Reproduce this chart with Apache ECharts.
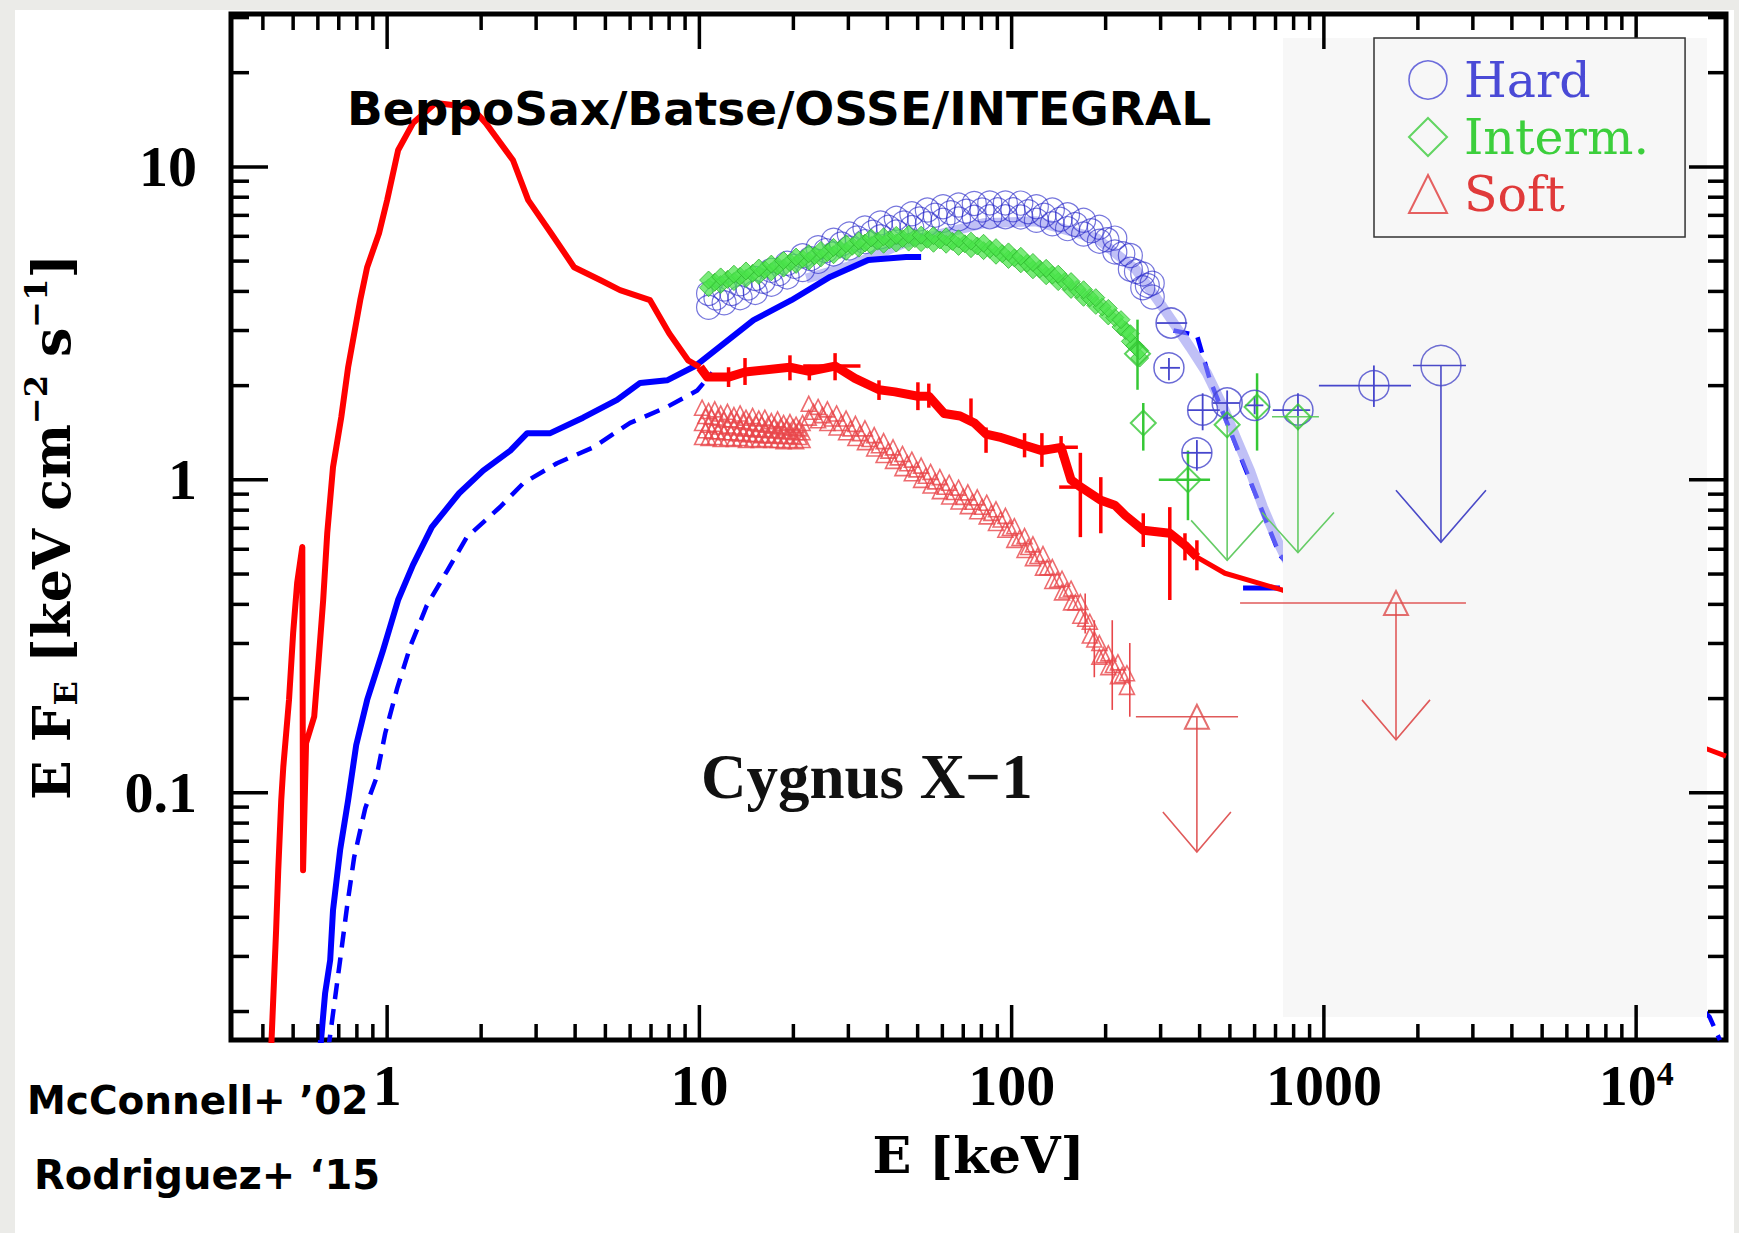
<!DOCTYPE html>
<html lang="en">
<head>
<meta charset="utf-8">
<title>Cygnus X-1 broad-band spectra</title>
<script src="https://cdn.jsdelivr.net/npm/echarts@6/dist/echarts.min.js"></script>
<style>
  html, body { margin: 0; padding: 0; background: #ebebe8; }
  #page { position: relative; width: 1739px; height: 1233px; overflow: hidden; }
  #card { position: absolute; left: 15px; top: 10px; width: 1719px; height: 1223px; background: #ffffff; }
  #chart { position: absolute; left: 0; top: 0; width: 1739px; height: 1233px; }
</style>
</head>
<body>
<div id="page"><div id="card"></div><div id="chart"></div></div>
<script>
// Axis extents: photon energy (keV) and E F_E (keV cm^-2 s^-1)
const xRange = [0.3162, 19400];
const yRange = [0.01622, 30.8];

// Decade labels
const xTickValues = [1, 10, 100, 1000, 10000];
const xTickLabels = ['1', '10', '100', '1000', '10{sup|4}'];
const yTickValues = [0.1, 1, 10];
const yTickLabels = ['0.1', '1', '10'];

// ---------------- Soft state ----------------
// low-energy soft-state spectrum [E, EF_E]
const softSpectrum = [
  [0.425,0.015],[0.441,0.0364],[0.448,0.0566],[0.458,0.0947],[0.465,0.121],[0.485,0.198],
  [0.500,0.324],[0.515,0.468],[0.535,0.610],[0.538,0.0566],[0.550,0.144],[0.584,0.175],
  [0.601,0.252],[0.624,0.413],[0.643,0.676],[0.671,1.10],[0.713,1.585],[0.750,2.29],
  [0.820,3.75],[0.863,4.78],[0.942,6.14],[1.00,7.83],[1.084,11.3],[1.21,13.8],[1.43,16.0],
  [1.86,15.5],[2.07,13.8],[2.53,10.5],[2.83,7.83],[3.35,6.14],[3.97,4.78],[4.81,4.35],
  [5.57,4.04],[6.95,3.75],[8.0,2.94],[9.2,2.41],[10.05,2.29]
];
// soft-state hard X-ray data trace
const softDataLine = [
  [10.05,2.29],[10.6,2.13],[12.4,2.13],[14.0,2.21],[19.5,2.29],[22.5,2.22],[27.2,2.31],
  [31.5,2.11],[37.6,1.94],[42.3,1.91],[50.1,1.85],[54.3,1.85],[60.8,1.63],[68.4,1.60],
  [76.0,1.52],[82.8,1.40],[91.4,1.37],[110,1.29],[125,1.24],[144,1.27],[155,1.0],
  [166,0.95],[193,0.861],[214,0.83],[231,0.77],[264,0.69],[321,0.675],[359,0.618],[392,0.566]
];
// error crosses on that trace [E, F, Elo, Ehi, Flo, Fhi]
const softDataErr = [
  [12.4,2.13,12.4,12.4,1.98,2.29],[14.0,2.21,14.0,14.0,2.01,2.45],[19.5,2.29,19.5,19.5,2.08,2.50],
  [22.5,2.22,22.5,22.5,2.08,2.33],[27.2,2.31,21.5,32.8,2.08,2.54],[37.6,1.94,37.6,37.6,1.80,2.08],
  [50.1,1.85,50.1,50.1,1.67,2.05],[54.3,1.85,54.3,54.3,1.70,2.03],[74.1,1.60,74.1,74.1,1.52,1.82],
  [82.8,1.40,82.8,82.8,1.22,1.47],[110,1.29,110,110,1.18,1.41],[125,1.24,125,125,1.10,1.41],
  [144,1.27,123,163,1.18,1.38],[166,0.95,166,166,0.656,1.22],[155,0.948,142,168,0.948,0.948],
  [193,0.861,193,193,0.675,1.02],[264,0.69,264,264,0.61,0.782],[321,0.675,321,321,0.413,0.818],
  [359,0.618,359,359,0.553,0.675],[392,0.566,392,392,0.514,0.641]
];
// soft-state model continuation
const softModelTail = [[392,0.566],[482,0.503],[734,0.445],[17200,0.137],[19400,0.131]];
// soft-state triangles, 10-21 keV block (five staggered rows)
const softClusterE    = [10.2,10.7,11.2,11.7,12.3,12.9,13.5,14.1,14.8,15.5,16.2,17.0,17.8,18.6,19.5,20.4,21.4];
const softClusterTop  = [1.70,1.66,1.68,1.63,1.65,1.61,1.63,1.58,1.60,1.57,1.58,1.54,1.56,1.52,1.53,1.50,1.52];
const softClusterMid  = [1.52,1.50,1.51,1.48,1.49,1.47,1.48,1.46,1.46,1.45,1.45,1.44,1.44,1.43,1.43,1.42,1.42];
const softClusterBot  = [1.37,1.36,1.37,1.35,1.36,1.35,1.36,1.34,1.35,1.34,1.35,1.34,1.34,1.33,1.34,1.33,1.34];
const softClusterE2   = [10.45,10.95,11.45,12.0,12.6,13.2,13.8,14.45,15.15,15.85,16.6,17.4,18.2,19.05,19.95,20.9];
const softClusterUpper= [1.60,1.59,1.58,1.56,1.56,1.55,1.54,1.53,1.52,1.51,1.50,1.49,1.48,1.47,1.47,1.46];
const softClusterLower= [1.44,1.43,1.43,1.42,1.42,1.41,1.41,1.40,1.40,1.39,1.39,1.39,1.38,1.38,1.38,1.37];
// soft-state triangles above 22 keV
const softTailE = [22.4,24.0,25.7,27.5,29.5,31.6,33.9,36.3,38.9,41.7,44.7,47.9,51.3,55.0,58.9,63.1,67.6,72.4,
  77.6,83.2,89.1,95.5,102,110,117,126,135,145,155,166,178,191,204,219,234];
const softTailHigh = [1.75,1.71,1.68,1.63,1.57,1.51,1.46,1.39,1.33,1.27,1.21,1.16,1.11,1.06,1.02,0.979,0.944,
  0.912,0.879,0.845,0.805,0.767,0.711,0.661,0.622,0.579,0.526,0.483,0.449,0.407,0.352,0.301,0.279,0.261,0.241];
const softTailLow = [1.58,1.55,1.52,1.47,1.42,1.36,1.32,1.26,1.20,1.15,1.09,1.05,1.00,0.959,0.920,0.885,0.853,
  0.824,0.794,0.764,0.728,0.693,0.643,0.597,0.562,0.524,0.475,0.437,0.406,0.368,0.318,0.272,0.252,0.236,0.218];
const softTailMidE = [23.2,24.8,26.6,28.5,30.5,32.7,35.1,37.6,40.3,43.2,46.3,49.6,53.1,56.9,61.0,65.3,70.0,75.0,
  80.4,86.1,92.2,98.7,106,113,121,130,140,150,160,172,184,197,211,226];
const softTailMid = [1.65,1.61,1.57,1.52,1.46,1.41,1.35,1.29,1.24,1.18,1.13,1.08,1.03,0.989,0.950,0.914,0.882,
  0.851,0.820,0.784,0.747,0.702,0.652,0.610,0.571,0.525,0.479,0.443,0.406,0.360,0.309,0.275,0.256,0.238];
const softTailErr = [
  [172,0.38,172,172,0.323,0.433],[184,0.30,184,184,0.234,0.356],
  [210,0.26,210,210,0.184,0.356],[239,0.224,239,239,0.175,0.301]
];
// upper limits [E, F, Elo, Ehi, F at arrow tip]
const softLimits = [[392,0.175,250,531,0.0647],[1702,0.404,539,2851,0.1476]];

// ---------------- Hard state ----------------
const hardSpectrum = [
  [0.61,0.015],[0.633,0.0229],[0.657,0.0292],[0.671,0.0422],[0.707,0.0656],[0.750,0.0947],
  [0.796,0.142],[0.863,0.198],[0.971,0.286],[1.084,0.413],[1.21,0.535],[1.39,0.706],[1.70,0.906],
  [2.03,1.07],[2.48,1.24],[2.81,1.41],[3.33,1.41],[4.24,1.58],[5.45,1.80],[6.46,2.04],[7.88,2.08],
  [9.76,2.32],[14.9,3.24],[19.7,3.75],[26.2,4.45],[34.7,5.04],[45.9,5.15],[51.3,5.15]
];
const hardModelLow = [
  [0.647,0.015],[0.707,0.0292],[0.745,0.0437],[0.784,0.0622],[0.851,0.0893],[0.922,0.111],
  [0.986,0.155],[1.077,0.216],[1.19,0.296],[1.34,0.397],[1.56,0.514],[1.80,0.656],[2.30,0.819],
  [2.73,0.976],[3.50,1.13],[4.57,1.27],[6.00,1.52],[7.88,1.71],[9.84,1.93],[11.0,2.2]
];
const hardModelHigh = [[330,3.0],[392,2.90],[432,2.08],[723,0.574],[17200,0.0192],[18550,0.0162]];
const hardModelPale = [
  [22,4.4],[30,4.8],[45,5.7],[81,6.6],[120,6.7],[188,5.9],[250,4.7],[305,3.56],[373,2.65],
  [422,2.19],[476,1.71],[527,1.34],[580,1.07],[638,0.818],[708,0.641],[800,0.5]
];
const hardTailStub = [[551,0.451],[723,0.451]];
// hard-state circles, 10-290 keV (three staggered rows)
const hardBandE = [10.7,12.0,13.5,15.1,17.0,19.1,21.4,24.0,26.9,30.2,33.9,38.0,42.7,47.9,53.7,60.3,67.6,75.9,
  85.1,95.5,107,120,135,151,170,191,214,240,263,282];
const hardBandLow = [3.56,3.68,3.82,3.97,4.22,4.45,4.70,4.99,5.27,5.51,5.77,5.98,6.19,6.40,6.58,6.75,6.82,6.90,
  6.93,6.93,6.92,6.75,6.58,6.35,6.10,5.79,5.35,4.71,4.11,3.84];
const hardBandHigh = [3.94,4.07,4.23,4.40,4.67,4.92,5.20,5.52,5.83,6.10,6.38,6.62,6.85,7.08,7.28,7.46,7.55,7.64,
  7.67,7.67,7.66,7.46,7.28,7.03,6.75,6.41,5.92,5.21,4.55,4.25];
const hardBandMidE = [11.3,12.7,14.3,16.0,18.0,20.2,22.7,25.4,28.5,32.0,35.9,40.3,45.2,50.7,56.9,63.8,71.6,80.4,
  90.2,101,113,127,143,160,180,202,227,251,272];
const hardBandMid = [3.81,3.94,4.10,4.31,4.56,4.81,5.09,5.40,5.67,5.93,6.18,6.41,6.62,6.82,7.01,7.14,7.22,7.28,
  7.29,7.29,7.19,7.01,6.80,6.55,6.25,5.85,5.28,4.63,4.18];
// isolated hard-state points [E, F, Elo, Ehi, Flo, Fhi]
const hardPoints = [
  [324,3.17,291,365,3.17,3.17],[319,2.28,299,346,2.08,2.45],[409,1.67,367,464,1.44,1.89],
  [490,1.76,441,538,1.55,1.93],[392,1.22,352,437,1.07,1.34],[600,1.73,560,640,1.62,1.85],
  [826,1.67,686,904,1.44,1.89],[1446,2.00,964,1901,1.71,2.32]
];
const hardLimits = [[2371,2.32,1928,2851,0.632]];

// ---------------- Intermediate state ----------------
const intermBandE = [10.7,11.7,12.9,14.1,15.5,17.0,18.6,20.4,22.4,24.5,26.9,29.5,32.4,35.5,38.9,42.7,46.8,51.3,
  56.2,61.7,67.6,74.1,81.3,89.1,97.7,107,117,129,141,155,170,186,204,224,240,257];
const intermBandLow = [4.11,4.21,4.30,4.40,4.50,4.62,4.75,4.88,5.00,5.12,5.24,5.37,5.50,5.61,5.66,5.71,5.75,5.73,
  5.70,5.66,5.57,5.48,5.40,5.22,5.06,4.90,4.69,4.49,4.30,4.06,3.83,3.61,3.34,3.08,2.77,2.45];
const intermBandHigh = [4.35,4.45,4.54,4.65,4.75,4.89,5.02,5.15,5.28,5.41,5.53,5.68,5.81,5.93,5.98,6.04,6.08,6.05,
  6.03,5.98,5.89,5.79,5.70,5.52,5.35,5.18,4.95,4.74,4.54,4.30,4.05,3.82,3.53,3.25,2.93,2.59];
const intermBandMidE = [11.2,12.3,13.5,14.8,16.2,17.8,19.5,21.4,23.4,25.7,28.2,30.9,33.9,37.2,40.7,44.7,49.0,53.7,
  58.9,64.6,70.8,77.6,85.1,93.3,102,112,123,135,148,162,178,195,214,232,248];
const intermBandMid = [4.28,4.37,4.47,4.57,4.69,4.82,4.95,5.08,5.20,5.32,5.45,5.58,5.71,5.79,5.85,5.90,5.90,5.87,
  5.84,5.78,5.68,5.59,5.46,5.28,5.12,4.92,4.72,4.51,4.30,4.06,3.82,3.57,3.30,3.00,2.68];
const intermPoints = [
  [253,2.53,253,253,1.94,3.25],[264,1.52,264,264,1.24,1.76],
  [367,1.00,296,432,0.743,1.24],[611,1.71,611,611,1.24,2.19]
];
const intermLimits = [[490,1.50,490,490,0.553],[826,1.59,682,964,0.586]];

// ---------------- helpers ----------------
const pair = (xs, ys) => xs.map((x, i) => [x, ys[i]]);

function labelFor(v, values, labels) {
  for (let i = 0; i < values.length; i++) {
    if (Math.abs(Math.log10(v) - Math.log10(values[i])) < 1e-6) return labels[i];
  }
  return '';
}

// logarithmic tick positions (1..9 x 10^n) inside a range
function logTicks(lo, hi) {
  const out = [];
  for (let d = Math.floor(Math.log10(lo)); d <= Math.ceil(Math.log10(hi)); d++) {
    for (let m = 1; m <= 9; m++) {
      const v = m * Math.pow(10, d);
      if (v > lo * 1.002 && v < hi * 0.998) out.push([v, m === 1 ? 1 : 0]);
    }
  }
  return out;
}

function crossItem(color, width) {
  return function (params, api) {
    const e = api.value(0), f = api.value(1);
    const c = api.coord([e, f]);
    const l = api.coord([api.value(2), f]);
    const r = api.coord([api.value(3), f]);
    const lo = api.coord([e, api.value(4)]);
    const hi = api.coord([e, api.value(5)]);
    const style = { stroke: color, lineWidth: width, fill: 'none' };
    const kids = [];
    if (r[0] - l[0] > 1) kids.push({ type: 'line', shape: { x1: l[0], y1: c[1], x2: r[0], y2: c[1] }, style: style });
    if (lo[1] - hi[1] > 1) kids.push({ type: 'line', shape: { x1: c[0], y1: hi[1], x2: c[0], y2: lo[1] }, style: style });
    return { type: 'group', children: kids };
  };
}

function limitItem(color, width, wing, head) {
  return function (params, api) {
    const e = api.value(0), f = api.value(1);
    const c = api.coord([e, f]);
    const l = api.coord([api.value(2), f]);
    const r = api.coord([api.value(3), f]);
    const t = api.coord([e, api.value(4)]);
    const style = { stroke: color, lineWidth: width, fill: 'none' };
    const kids = [
      { type: 'line', shape: { x1: c[0], y1: c[1], x2: t[0], y2: t[1] }, style: style },
      { type: 'polyline', shape: { points: [[t[0] - wing, t[1] - head], [t[0], t[1]], [t[0] + wing, t[1] - head]] }, style: style }
    ];
    if (r[0] - l[0] > 1) kids.push({ type: 'line', shape: { x1: l[0], y1: c[1], x2: r[0], y2: c[1] }, style: style });
    return { type: 'group', children: kids };
  };
}

function tickItem(axis) {
  return function (params, api) {
    const cs = params.coordSys;
    const major = api.value(2) === 1;
    const style = { stroke: '#000', lineWidth: 3.5 };
    if (axis === 'x') {
      const x = api.coord([api.value(0), yRange[0]])[0];
      const len = major ? 35 : 16;
      const b = cs.y + cs.height;
      return { type: 'group', children: [
        { type: 'line', shape: { x1: x, y1: b, x2: x, y2: b - len }, style: style },
        { type: 'line', shape: { x1: x, y1: cs.y, x2: x, y2: cs.y + len }, style: style }
      ] };
    }
    const y = api.coord([xRange[0], api.value(1)])[1];
    const len = major ? 37 : 18;
    const r = cs.x + cs.width;
    return { type: 'group', children: [
      { type: 'line', shape: { x1: cs.x, y1: y, x2: cs.x + len, y2: y }, style: style },
      { type: 'line', shape: { x1: r, y1: y, x2: r - len, y2: y }, style: style }
    ] };
  };
}

function lineSeries(name, data, color, width, z, dash) {
  return { type: 'line', name: name, data: data, symbol: 'none', showSymbol: false, silent: true, z: z,
    lineStyle: { color: color, width: width, type: dash || 'solid', cap: 'butt', join: 'round' } };
}
function markSeries(name, data, symbol, size, color, width, z, fill) {
  return { type: 'scatter', name: name, data: data, symbol: symbol, symbolSize: size, silent: true, z: z,
    itemStyle: { color: fill || 'rgba(0,0,0,0)', borderColor: color, borderWidth: width } };
}
function customSeries(name, data, renderItem, z) {
  return { type: 'custom', name: name, data: data, renderItem: renderItem, encode: { x: 0, y: 1 }, silent: true, z: z, clip: false };
}

// colours
const RED = '#ff0000';
const BLUE = '#0000ff';
const SOFT = '#e8474b';
const HARD = 'rgba(40,40,200,0.8)';
const HARD_PT = '#4646cc';
const GREEN = '#35c835';
const GREEN_FILL = 'rgba(75,228,75,0.92)';

const hardBand = pair(hardBandE, hardBandLow).concat(pair(hardBandMidE, hardBandMid), pair(hardBandE, hardBandHigh));
const intermBand = pair(intermBandE, intermBandLow).concat(pair(intermBandMidE, intermBandMid), pair(intermBandE, intermBandHigh));
const softMarks = pair(softClusterE, softClusterBot).concat(
  pair(softClusterE2, softClusterLower), pair(softClusterE, softClusterMid),
  pair(softClusterE2, softClusterUpper), pair(softClusterE, softClusterTop),
  pair(softTailE, softTailLow), pair(softTailMidE, softTailMid), pair(softTailE, softTailHigh));

const xTickData = logTicks(xRange[0], xRange[1]).map(t => [t[0], yRange[0], t[1]]);
const yTickData = logTicks(yRange[0], yRange[1]).map(t => [xRange[0], t[0], t[1]]);

const labelFont = { fontFamily: 'Liberation Serif', fontWeight: 'bold', fontSize: 58, color: '#000' };

const chart = echarts.init(document.getElementById('chart'), null, { renderer: 'svg' });
chart.setOption({
  animation: false,
  grid: { left: 231, top: 14, width: 1495, height: 1026, show: true, borderColor: '#000', borderWidth: 5,
    backgroundColor: 'rgba(0,0,0,0)', outerBoundsMode: 'none' },
  xAxis: {
    type: 'log', logBase: 10, min: xRange[0], max: xRange[1],
    name: 'E [keV]', nameLocation: 'middle', nameGap: 89,
    nameTextStyle: { fontFamily: 'DejaVu Serif', fontWeight: 'bold', fontSize: 51, color: '#000' },
    axisLine: { show: false }, axisTick: { show: false }, splitLine: { show: false },
    axisLabel: Object.assign({ margin: 16, formatter: v => labelFor(v, xTickValues, xTickLabels),
      rich: { sup: { fontFamily: 'Liberation Serif', fontWeight: 'bold', fontSize: 34, lineHeight: 34, verticalAlign: 'top', color: '#000' } }
    }, labelFont)
  },
  yAxis: {
    type: 'log', logBase: 10, min: yRange[0], max: yRange[1],
    name: 'E F{sub|E} [keV cm{sup|\u22122} s{sup|\u22121}]',
    nameLocation: 'middle', nameRotate: 90, nameGap: 149,
    nameTextStyle: { fontFamily: 'DejaVu Serif', fontWeight: 'bold', fontSize: 52, lineHeight: 62, color: '#000',
      rich: {
        sub: { fontFamily: 'DejaVu Serif', fontWeight: 'bold', fontSize: 32, lineHeight: 32, verticalAlign: 'bottom', color: '#000' },
        sup: { fontFamily: 'DejaVu Serif', fontWeight: 'bold', fontSize: 32, lineHeight: 32, verticalAlign: 'top', color: '#000' }
      } },
    axisLine: { show: false }, axisTick: { show: false }, splitLine: { show: false },
    axisLabel: Object.assign({ margin: 34, formatter: v => labelFor(v, yTickValues, yTickLabels) }, labelFont)
  },
  legend: {
    data: [
      { name: 'Hard', icon: 'circle', itemStyle: { color: 'rgba(0,0,0,0)', borderColor: '#4a4ad4', borderWidth: 1.6 }, textStyle: { color: '#4a4ad6' } },
      { name: 'Interm.', icon: 'diamond', itemStyle: { color: 'rgba(0,0,0,0)', borderColor: '#3ccc3c', borderWidth: 2 }, textStyle: { color: '#3ccf3c' } },
      { name: 'Soft', icon: 'triangle', itemStyle: { color: 'rgba(0,0,0,0)', borderColor: '#e03a3a', borderWidth: 2 }, textStyle: { color: '#e03a3a' } }
    ],
    orient: 'vertical', left: 1374, top: 38,
    itemWidth: 38, itemHeight: 38, itemGap: 7,
    padding: [17, 36, 18, 34],
    backgroundColor: '#f7f7f7', borderColor: '#333', borderWidth: 1.5,
    textStyle: { fontFamily: 'DejaVu Serif', fontSize: 49, lineHeight: 50, padding: [0, 0, 0, 12] },
    selectedMode: false, z: 20
  },
  graphic: [
    { type: 'rect', shape: { x: 1283, y: 38, width: 424, height: 979 }, style: { fill: '#f7f7f7' }, z: 5, silent: true },
    { type: 'text', x: 347, y: 108, z: 20, silent: true,
      style: { text: 'BeppoSax/Batse/OSSE/INTEGRAL', fontFamily: 'DejaVu Sans', fontWeight: 'bold', fontSize: 47, fill: '#000', verticalAlign: 'middle' } },
    { type: 'text', x: 701, y: 777, z: 20, silent: true,
      style: { text: 'Cygnus X\u22121', fontFamily: 'Liberation Serif', fontWeight: 'bold', fontSize: 63, fill: '#111', verticalAlign: 'middle' } },
    { type: 'text', x: 27, y: 1100, z: 20, silent: true,
      style: { text: 'McConnell+ \u201902', fontFamily: 'DejaVu Sans', fontWeight: 'bold', fontSize: 39, fill: '#000', verticalAlign: 'middle' } },
    { type: 'text', x: 34, y: 1175, z: 20, silent: true,
      style: { text: 'Rodriguez+ \u201815', fontFamily: 'DejaVu Sans', fontWeight: 'bold', fontSize: 40, fill: '#000', verticalAlign: 'middle' } }
  ],
  series: [
    // models and spectra that sit behind the inset panel
    lineSeries('hard model', hardModelLow, BLUE, 4.5, 2, [16, 10]),
    lineSeries('hard model cutoff', hardModelHigh, BLUE, 4.5, 2, [16, 10]),
    lineSeries('hard model (pale)', hardModelPale, 'rgba(150,150,240,0.6)', 10, 3),
    lineSeries('hard tail', hardTailStub, BLUE, 5, 3),
    lineSeries('soft model', softModelTail, RED, 5, 3),
    lineSeries('hard spectrum', hardSpectrum, BLUE, 6, 4),
    lineSeries('soft spectrum', softSpectrum, RED, 6, 4),
    // soft-state hard X-ray data
    lineSeries('soft data', softDataLine, RED, 9, 6),
    customSeries('soft data errors', softDataErr, crossItem(RED, 3.5), 6),
    // state-resolved points
    markSeries('Soft', softMarks, 'triangle', 15, SOFT, 1.6, 7),
    customSeries('soft errors', softTailErr, crossItem(SOFT, 1.6), 7),
    markSeries('Hard', hardBand, 'circle', 24, HARD, 1.2, 8),
    markSeries('Interm.', intermBand, 'diamond', 18, '#2fb82f', 1, 9, GREEN_FILL),
    markSeries('Interm.', intermPoints.map(p => [p[0], p[1]]), 'diamond', 25, GREEN, 2, 10),
    customSeries('interm errors', intermPoints, crossItem(GREEN, 2.5), 10),
    markSeries('Hard', hardPoints.map(p => [p[0], p[1]]), 'circle', 30, HARD_PT, 1.5, 10),
    customSeries('hard errors', hardPoints, crossItem(HARD_PT, 1.8), 10),
    // upper limits
    markSeries('Soft', softLimits.map(p => [p[0], p[1]]), 'triangle', 24, '#dd4a4a', 2, 11),
    customSeries('soft limits', softLimits, limitItem('#e05a5a', 1.6, 34, 40), 11),
    markSeries('Hard', hardLimits.map(p => [p[0], p[1]]), 'circle', 40, '#4a4ac8', 1.5, 11),
    customSeries('hard limits', hardLimits, limitItem('#4a4ac8', 1.6, 45, 52), 11),
    markSeries('Interm.', intermLimits.map(p => [p[0], p[1]]), 'diamond', 25, GREEN, 2, 11),
    customSeries('interm limits', intermLimits, limitItem('#66cc66', 1.6, 36, 40), 11),
    // frame ticks
    customSeries('x ticks', xTickData, tickItem('x'), 15),
    customSeries('y ticks', yTickData, tickItem('y'), 15)
  ]
});
</script>
</body>
</html>
